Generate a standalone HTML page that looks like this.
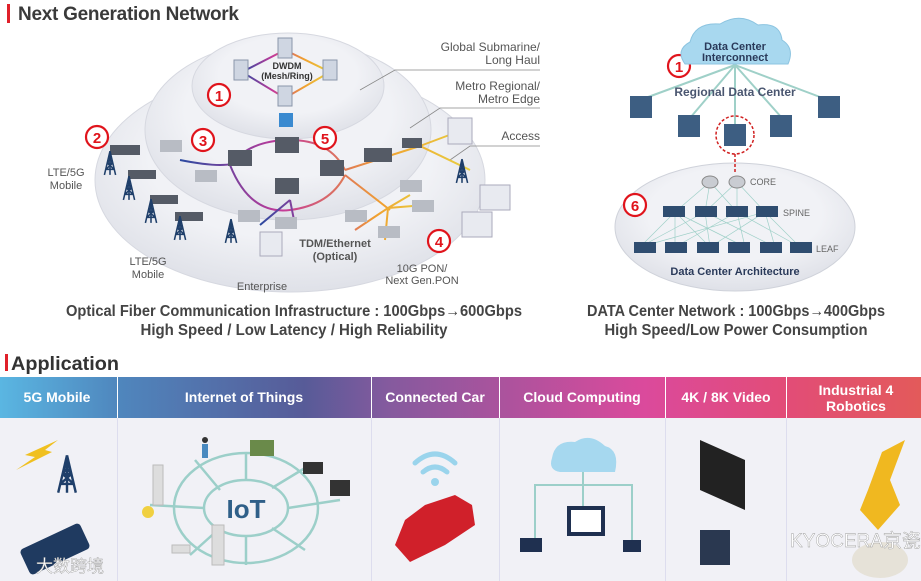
<!DOCTYPE html>
<html><head><meta charset="utf-8"><style>
html,body{margin:0;padding:0;background:#fff;}
svg{display:block;font-family:"Liberation Sans Narrow","Liberation Sans",sans-serif;}
</style></head><body>
<svg width="921" height="581" viewBox="0 0 921 581" xmlns="http://www.w3.org/2000/svg">
<defs>
<linearGradient id="hg" x1="0" x2="1" y1="0" y2="0">
<stop offset="0" stop-color="#5ab6e2"/><stop offset="0.13" stop-color="#4f86bd"/>
<stop offset="0.33" stop-color="#575b98"/><stop offset="0.42" stop-color="#845a9e"/>
<stop offset="0.7" stop-color="#db4a9c"/><stop offset="0.85" stop-color="#e24c78"/>
<stop offset="1" stop-color="#e35a5a"/></linearGradient>
<radialGradient id="eg" cx="0.5" cy="0.4" r="0.6"><stop offset="0.6" stop-color="#f1f2f6"/><stop offset="1" stop-color="#dfe1e8"/></radialGradient>
<linearGradient id="fib" x1="0" x2="1"><stop offset="0" stop-color="#2b4aa0"/><stop offset="0.35" stop-color="#c43a9a"/><stop offset="0.7" stop-color="#f0a030"/><stop offset="1" stop-color="#e8d040"/></linearGradient>
<symbol id="tw" viewBox="0 0 20 34" overflow="visible">
<path d="M10,0 L2,34 M10,0 L18,34 M4,26 L16,26 M6,17 L14,17 M4,26 L14,17 M16,26 L6,17 M6,17 L12,9 M14,17 L8,9 M10,0 L10,34" stroke="#1f3f6a" stroke-width="2.2" fill="none"/>
</symbol>
</defs>
<rect x="7" y="4" width="3" height="19" fill="#e0202a"/>
<text x="18" y="20" font-size="19" font-weight="bold" fill="#3a3a3a" textLength="221" font-family="Liberation Sans,sans-serif">Next Generation Network</text>
<ellipse cx="290" cy="180" rx="195" ry="112" fill="url(#eg)" stroke="#d6d8e0"/>
<ellipse cx="288" cy="130" rx="143" ry="90" fill="url(#eg)" stroke="#d6d8e0"/>
<ellipse cx="288" cy="86" rx="96" ry="53" fill="url(#eg)" stroke="#d6d8e0"/>
<g stroke="#888" stroke-width="0.8" fill="none">
<polyline points="360,90 395,70 540,70"/><polyline points="410,128 440,108 540,108"/><polyline points="450,160 470,146 540,146"/></g>
<g font-size="12" fill="#555" text-anchor="end" font-family="Liberation Sans,sans-serif">
<text x="540" y="51">Global Submarine/</text><text x="540" y="64">Long Haul</text>
<text x="540" y="90">Metro Regional/</text><text x="540" y="103">Metro Edge</text>
<text x="540" y="140">Access</text></g>
<g font-size="11" fill="#555" text-anchor="middle" font-family="Liberation Sans,sans-serif">
<text x="66" y="176">LTE/5G</text><text x="66" y="189">Mobile</text>
<text x="148" y="265">LTE/5G</text><text x="148" y="278">Mobile</text>
<text x="262" y="290">Enterprise</text>
<text x="422" y="272">10G PON/</text><text x="422" y="284">Next Gen.PON</text></g>
<text x="335" y="247" font-size="11" font-weight="bold" fill="#555" text-anchor="middle" font-family="Liberation Sans,sans-serif">TDM/Ethernet</text>
<text x="335" y="260" font-size="11" font-weight="bold" fill="#555" text-anchor="middle" font-family="Liberation Sans,sans-serif">(Optical)</text>
<g stroke="url(#fib)" stroke-width="2" fill="none">
<polygon points="285,50 330,72 285,98 242,72"/>
<path d="M180,160 Q230,170 240,160 M290,140 Q330,140 345,170 M230,165 Q250,215 290,210 Q330,205 345,175 M345,170 L420,146 L470,170 M420,146 L468,128 M345,175 L390,210 M230,165 Q250,140 290,140"/>
<path d="M388,208 L355,230 M388,208 L410,195 M388,208 L425,205 M388,208 L385,240 M290,200 L260,225 M290,200 L295,225"/>
</g>
<g fill="#cfd6e2" stroke="#8a96aa"><rect x="278" y="38" width="14" height="20"/><rect x="234" y="60" width="14" height="20"/><rect x="323" y="60" width="14" height="20"/><rect x="278" y="86" width="14" height="20"/></g>
<rect x="279" y="113" width="14" height="14" fill="#3a8ad0"/>
<text x="287" y="69" font-size="9" font-weight="bold" fill="#333" text-anchor="middle" font-family="Liberation Sans,sans-serif">DWDM</text>
<text x="287" y="79" font-size="9" font-weight="bold" fill="#333" text-anchor="middle" font-family="Liberation Sans,sans-serif">(Mesh/Ring)</text>
<g fill="#555b66"><rect x="228" y="150" width="24" height="16"/><rect x="275" y="137" width="24" height="16"/><rect x="320" y="160" width="24" height="16"/><rect x="275" y="178" width="24" height="16"/><rect x="364" y="148" width="28" height="14"/><rect x="402" y="138" width="20" height="10"/>
<rect x="110" y="145" width="30" height="10"/><rect x="128" y="170" width="28" height="9"/><rect x="150" y="195" width="28" height="9"/><rect x="175" y="212" width="28" height="9"/></g>
<g fill="#b8bcc4"><rect x="160" y="140" width="22" height="12"/><rect x="195" y="170" width="22" height="12"/><rect x="238" y="210" width="22" height="12"/><rect x="275" y="217" width="22" height="12"/><rect x="400" y="180" width="22" height="12"/><rect x="412" y="200" width="22" height="12"/><rect x="345" y="210" width="22" height="12"/><rect x="378" y="226" width="22" height="12"/></g>
<use href="#tw" x="103" y="150" width="14" height="26"/><use href="#tw" x="122" y="175" width="14" height="26"/><use href="#tw" x="144" y="198" width="14" height="26"/><use href="#tw" x="173" y="215" width="14" height="26"/><use href="#tw" x="224" y="218" width="14" height="26"/><use href="#tw" x="455" y="158" width="14" height="26"/>
<g fill="#e8eaf0" stroke="#aab"><rect x="448" y="118" width="24" height="26"/><rect x="260" y="232" width="22" height="24"/><rect x="480" y="185" width="30" height="25"/><rect x="462" y="212" width="30" height="25"/></g>
<ellipse cx="735" cy="227" rx="120" ry="64" fill="url(#eg)" stroke="#cfd2da"/>
<g fill="#fff" stroke="#e0141c" stroke-width="2.2">
<circle cx="219" cy="95" r="11"/><circle cx="97" cy="137" r="11"/><circle cx="203" cy="140" r="11"/><circle cx="325" cy="138" r="11"/><circle cx="439" cy="241" r="11"/>
<circle cx="679" cy="66" r="11"/><circle cx="635" cy="205" r="11"/></g>
<g fill="#e0141c" font-size="15" font-weight="bold" text-anchor="middle" font-family="Liberation Sans,sans-serif">
<text x="219" y="101">1</text><text x="97" y="143">2</text><text x="203" y="146">3</text><text x="325" y="144">5</text><text x="439" y="247">4</text><text x="679" y="72">1</text><text x="635" y="211">6</text></g>
<g stroke="#9fd0c8" stroke-width="2"><line x1="735" y1="65" x2="640" y2="100"/><line x1="735" y1="65" x2="690" y2="118"/><line x1="735" y1="65" x2="735" y2="125"/><line x1="735" y1="65" x2="782" y2="118"/><line x1="735" y1="65" x2="828" y2="100"/></g>
<path d="M685,64 Q675,50 690,42 Q695,22 720,24 Q740,12 758,25 Q780,22 782,40 Q795,48 788,64 Z" fill="#a8d8ef" stroke="#8cc4e0"/>
<text x="735" y="50" font-size="11" font-weight="bold" fill="#2a3a5a" text-anchor="middle" font-family="Liberation Sans,sans-serif">Data Center</text>
<text x="735" y="61" font-size="11" font-weight="bold" fill="#2a3a5a" text-anchor="middle" font-family="Liberation Sans,sans-serif">Interconnect</text>
<text x="735" y="96" font-size="12" font-weight="bold" fill="#4a5670" text-anchor="middle" font-family="Liberation Sans,sans-serif">Regional Data Center</text>
<g fill="#3d5e82"><rect x="630" y="96" width="22" height="22"/><rect x="678" y="115" width="22" height="22"/><rect x="724" y="124" width="22" height="22"/><rect x="770" y="115" width="22" height="22"/><rect x="818" y="96" width="22" height="22"/></g>
<circle cx="735" cy="135" r="19" fill="none" stroke="#d02020" stroke-width="1.5" stroke-dasharray="3,2"/>
<line x1="735" y1="154" x2="735" y2="172" stroke="#d02020" stroke-width="1.5" stroke-dasharray="3,2"/>
<g stroke="#9fd0c8" stroke-width="0.7">
<path d="M710,182 L675,212 M710,182 L705,212 M710,182 L737,212 M737,182 L705,212 M737,182 L737,212 M737,182 L765,212 M675,212 L640,247 M675,212 L675,247 M675,212 L710,247 M675,212 L745,247 M705,212 L640,247 M705,212 L710,247 M705,212 L775,247 M737,212 L675,247 M737,212 L745,247 M737,212 L800,247 M765,212 L710,247 M765,212 L775,247 M765,212 L800,247 M765,212 L640,247"/></g>
<g fill="#c9ccd2" stroke="#888"><ellipse cx="710" cy="182" rx="8" ry="6"/><ellipse cx="737" cy="182" rx="8" ry="6"/></g>
<g fill="#2f4d70"><rect x="663" y="206" width="22" height="11"/><rect x="695" y="206" width="22" height="11"/><rect x="726" y="206" width="22" height="11"/><rect x="756" y="206" width="22" height="11"/>
<rect x="634" y="242" width="22" height="11"/><rect x="665" y="242" width="22" height="11"/><rect x="697" y="242" width="22" height="11"/><rect x="728" y="242" width="22" height="11"/><rect x="760" y="242" width="22" height="11"/><rect x="790" y="242" width="22" height="11"/></g>
<g font-size="9" fill="#666" font-family="Liberation Sans,sans-serif"><text x="750" y="185">CORE</text><text x="783" y="216">SPINE</text><text x="816" y="252">LEAF</text></g>
<text x="735" y="275" font-size="11" font-weight="bold" fill="#2a3a5a" text-anchor="middle" font-family="Liberation Sans,sans-serif">Data Center Architecture</text>
<g font-size="16" font-weight="bold" fill="#444" text-anchor="middle">
<text x="294" y="316" textLength="456" lengthAdjust="spacingAndGlyphs">Optical Fiber Communication Infrastructure : 100Gbps→600Gbps</text>
<text x="294" y="335" textLength="307" lengthAdjust="spacingAndGlyphs">High Speed / Low Latency / High Reliability</text>
<text x="736" y="316" textLength="298" lengthAdjust="spacingAndGlyphs">DATA Center Network : 100Gbps→400Gbps</text>
<text x="736" y="335" textLength="263" lengthAdjust="spacingAndGlyphs">High Speed/Low Power Consumption</text></g>
<rect x="5" y="354" width="3" height="17" fill="#e0202a"/>
<text x="11" y="370" font-size="19" font-weight="bold" fill="#333" textLength="108" lengthAdjust="spacingAndGlyphs">Application</text>
<rect x="0" y="377" width="921" height="41" fill="url(#hg)"/>
<rect x="0" y="418" width="921" height="163" fill="#f1f1f6"/>
<g stroke="#fff" stroke-width="1"><line x1="117.5" y1="377" x2="117.5" y2="418"/><line x1="371.5" y1="377" x2="371.5" y2="418"/><line x1="499.5" y1="377" x2="499.5" y2="418"/><line x1="665.5" y1="377" x2="665.5" y2="418"/><line x1="786.5" y1="377" x2="786.5" y2="418"/></g>
<g stroke="#dde" stroke-width="1"><line x1="117.5" y1="418" x2="117.5" y2="581"/><line x1="371.5" y1="418" x2="371.5" y2="581"/><line x1="499.5" y1="418" x2="499.5" y2="581"/><line x1="665.5" y1="418" x2="665.5" y2="581"/><line x1="786.5" y1="418" x2="786.5" y2="581"/></g>
<g font-size="14" font-weight="bold" fill="#fff" text-anchor="middle">
<text x="57" y="402">5G Mobile</text><text x="244" y="402">Internet of Things</text><text x="435" y="402">Connected Car</text><text x="582" y="402">Cloud Computing</text><text x="726" y="402">4K / 8K  Video</text><text x="856" y="395">Industrial 4</text><text x="856" y="411">Robotics</text></g>
<use href="#tw" x="56" y="448" width="22" height="52"/>
<polygon points="25,455 58,440 45,450 52,452 16,470 35,457" fill="#f0c020"/>
<rect x="22" y="535" width="66" height="28" rx="4" fill="#1f3a60" transform="rotate(-25 55 549)"/>
<g stroke="#9ccfc9" stroke-width="2.5" fill="none"><ellipse cx="246" cy="508" rx="72" ry="55"/><ellipse cx="246" cy="508" rx="42" ry="28"/>
<path d="M246,480 L246,453 M204,508 L150,505 M288,508 L340,500 M220,490 L195,460 M272,488 L305,468 M220,528 L190,555 M272,528 L305,550 M246,536 L246,565"/></g>
<text x="246" y="518" font-size="26" font-weight="bold" fill="#2f5f88" text-anchor="middle">IoT</text>
<g fill="#ddd" stroke="#bbb"><rect x="153" y="465" width="10" height="40"/><rect x="212" y="525" width="12" height="40"/><rect x="172" y="545" width="18" height="8"/></g>
<g fill="#333"><rect x="330" y="480" width="20" height="16"/><rect x="303" y="462" width="20" height="12"/></g>
<circle cx="205" cy="440" r="3" fill="#333"/><rect x="202" y="444" width="6" height="14" fill="#4a8ac0"/>
<rect x="250" y="440" width="24" height="16" fill="#6a8a4a"/>
<circle cx="148" cy="512" r="6" fill="#f0d040"/>
<g stroke="#9ad4ec" stroke-width="5" fill="none" stroke-linecap="round"><path d="M415,463 Q435,445 455,463"/><path d="M423,472 Q435,462 447,472"/></g>
<circle cx="435" cy="482" r="4" fill="#9ad4ec"/>
<path d="M395,545 L405,520 L425,505 L455,495 L472,505 L475,525 L445,545 L410,562 Z" fill="#d0202a"/>
<path d="M560,472 Q548,470 552,458 Q555,440 575,442 Q590,432 605,446 Q620,450 615,472 Z" fill="#a6d8ef"/>
<g stroke="#9ccfc9" stroke-width="2" fill="none"><path d="M583,472 L583,520 M535,545 L535,485 L632,485 L632,545"/></g>
<rect x="567" y="506" width="38" height="30" fill="#1f3050"/><rect x="571" y="510" width="30" height="22" fill="#fff"/>
<rect x="520" y="538" width="22" height="14" fill="#1f3050"/><rect x="623" y="540" width="18" height="12" fill="#1f3050"/>
<polygon points="700,440 745,460 745,510 700,490" fill="#222"/>
<rect x="700" y="530" width="30" height="35" fill="#2a3850"/>
<path d="M905,440 L882,452 L868,490 L860,510 L878,530 L900,505 L890,480 Z" fill="#f0b820"/>
<ellipse cx="880" cy="560" rx="28" ry="18" fill="#e6e2d8"/>
<text x="790" y="547" font-size="19" fill="#fff" stroke="#999" stroke-width="0.4" font-family="Liberation Sans,Noto Sans CJK SC,sans-serif">KYOCERA京瓷中国</text>
<text x="36" y="572" font-size="17" fill="#fff" stroke="#999" stroke-width="0.4" font-family="Liberation Sans,Noto Sans CJK SC,sans-serif">大数跨境</text>
</svg>
</body></html>
